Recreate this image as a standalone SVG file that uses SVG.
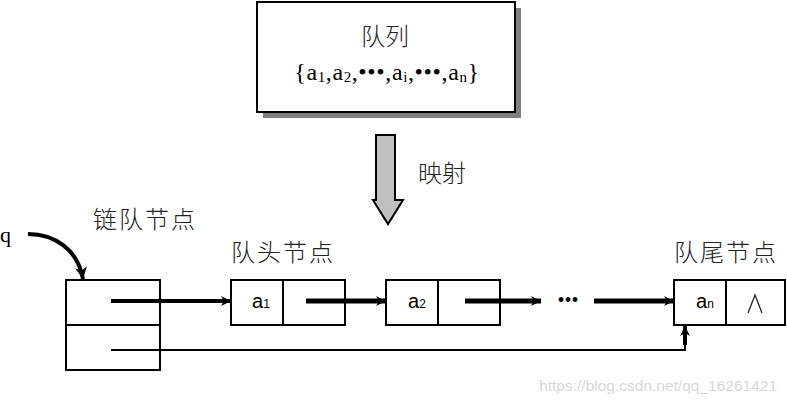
<svg xmlns="http://www.w3.org/2000/svg" width="787" height="405" viewBox="0 0 787 405">
<style>
.cjk{font-family:"Noto Sans CJK SC","Noto Sans",sans-serif;font-size:24px;font-weight:300;fill:#222}
.box{fill:#fff;stroke:#000;stroke-width:2}
.lbl{font-family:"Liberation Sans",sans-serif;font-size:20px;fill:#000}
.sub{font-size:12px}
.ln{fill:none;stroke:#000}
</style>
<defs>
<marker id="ah" viewBox="0 0 10 10" refX="10" refY="5" markerWidth="10" markerHeight="10" markerUnits="userSpaceOnUse" orient="auto">
<path d="M0,0 L10,5 L0,10 L3,5 Z" fill="#000"/>
</marker>
<marker id="ah2" viewBox="0 0 10 10" refX="10" refY="5" markerWidth="12" markerHeight="12" markerUnits="userSpaceOnUse" orient="auto">
<path d="M0,0 L10,5 L0,10 L3,5 Z" fill="#000"/>
</marker>
</defs>
<rect width="787" height="405" fill="#fff"/>
<g id="queue">
<rect x="263" y="8" width="258" height="110" fill="#808080"/>
<rect x="257" y="2" width="258" height="110" class="box"/>
<text x="385" y="45" class="cjk" text-anchor="middle">队列</text>
<text x="387" y="80" text-anchor="middle" font-family="Liberation Serif,serif" font-size="24" letter-spacing="0.6">{a<tspan font-size="15" dy="2">1</tspan><tspan dy="-2">,a</tspan><tspan font-size="15" dy="2">2</tspan><tspan dy="-2">,•••,a</tspan><tspan font-size="15" dy="2">i</tspan><tspan dy="-2">,•••,a</tspan><tspan font-size="15" dy="2">n</tspan><tspan dy="-2">}</tspan></text>
</g>
<g id="mapping">
<path d="M376,135 H395 V200 H403 L388,224 L373,200 H376 Z" fill="#c0c0c0" stroke="#000" stroke-width="2"/>
<text x="418" y="182" class="cjk">映射</text>
</g>
<g id="chainnode">
<text x="93" y="228" class="cjk" letter-spacing="2">链队节点</text>
<rect x="66" y="280" width="94" height="90" class="box"/>
<line x1="66" y1="325" x2="160" y2="325" class="ln" stroke-width="2"/>
</g>
<g id="q">
<text x="0" y="242" font-family="Liberation Serif,serif" font-size="22">q</text>
</g>
<g id="n1">
<text x="231" y="261" class="cjk" letter-spacing="2">队头节点</text>
<rect x="231" y="280" width="114" height="45" class="box"/>
<line x1="283" y1="280" x2="283" y2="325" class="ln" stroke-width="2"/>
<text x="252" y="308" class="lbl">a<tspan class="sub">1</tspan></text>
</g>
<g id="n2">
<rect x="386" y="280" width="114" height="45" class="box"/>
<line x1="438" y1="280" x2="438" y2="325" class="ln" stroke-width="2"/>
<text x="408" y="308" class="lbl">a<tspan class="sub">2</tspan></text>
</g>
<g id="dots">
<text x="568" y="307" text-anchor="middle" font-family="Liberation Serif,serif" font-size="20">•••</text>
</g>
<g id="nn">
<text x="674" y="261" class="cjk" letter-spacing="2">队尾节点</text>
<rect x="674" y="280" width="111" height="45" class="box"/>
<line x1="726" y1="280" x2="726" y2="325" class="ln" stroke-width="2"/>
<text x="696" y="308" class="lbl">a<tspan class="sub">n</tspan></text>
<path d="M748,313 L755,295 L762,313" fill="none" stroke="#222" stroke-width="1.3"/>
</g>
<g id="connectors">
<path d="M28,234 C55,234 78,250 83,279" class="ln" stroke-width="4" marker-end="url(#ah2)"/>
<line x1="111" y1="301" x2="231" y2="301" class="ln" stroke-width="4" marker-end="url(#ah)"/>
<line x1="306" y1="301" x2="386" y2="301" class="ln" stroke-width="5" marker-end="url(#ah)"/>
<line x1="465" y1="301" x2="541" y2="301" class="ln" stroke-width="5" marker-end="url(#ah)"/>
<line x1="594" y1="301" x2="674" y2="301" class="ln" stroke-width="5" marker-end="url(#ah)"/>
<path d="M111,350 H685 V326" class="ln" stroke-width="2"/>
<line x1="685" y1="345" x2="685" y2="326" class="ln" stroke-width="4" marker-end="url(#ah)"/>
</g>
<text x="777" y="391" text-anchor="end" font-family="Liberation Sans,sans-serif" font-size="15.5" fill="#d8d8d8">https://blog.csdn.net/qq_16261421</text>
</svg>
